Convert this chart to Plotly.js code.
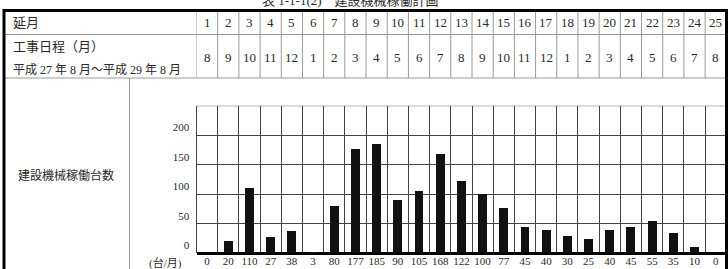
<!DOCTYPE html>
<html>
<head>
<meta charset="utf-8">
<script src="https://cdn.plot.ly/plotly-3.0.1.min.js"></script>
<style>html,body{margin:0;padding:0;background:#fff;}#chart{width:728px;height:269px;}</style>
</head>
<body>
<div id="chart"></div>
<script>
// ---- data ----
var monthIndex = [1,2,3,4,5,6,7,8,9,10,11,12,13,14,15,16,17,18,19,20,21,22,23,24,25];
var calendarMonth = [8,9,10,11,12,1,2,3,4,5,6,7,8,9,10,11,12,1,2,3,4,5,6,7,8];
var machineCount = [0,20,110,27,38,3,80,177,185,90,105,168,122,100,77,45,40,30,25,40,45,55,35,10,0];
var yTickVals = [0,50,100,150,200];
var titleText = "表 1-1-1(2)　建設機械稼働計画";
var rowLabel1 = "延月";
var rowLabel2a = "工事日程（月）";
var rowLabel2b = "平成 27 年 8 月～平成 29 年 8 月";
var rowLabel3 = "建設機械稼働台数";
var unitLabel = "(台/月)";

// ---- layout helpers ----
var W = 728, H = 269;
function X(px){ return px / W; }
function Y(py){ return 1 - py / H; }
var FONT = "Liberation Serif, 'Noto Sans CJK JP', serif";
var TXT = "#2a2a2a";
var n = machineCount.length;
var xs = machineCount.map(function(_, i){ return i; });

var shapes = [];
var gray = "#9a9a9a";
shapes.push({type:"line", xref:"paper", yref:"paper", x0:X(4), x1:X(726.5), y0:Y(34.5), y1:Y(34.5), line:{color:gray, width:1}});
shapes.push({type:"line", xref:"paper", yref:"paper", x0:X(4), x1:X(726.5), y0:Y(78), y1:Y(78), line:{color:gray, width:1}});
for (var i = 0; i < n; i++) {
  shapes.push({type:"line", xref:"x", yref:"paper", x0:i-0.5, x1:i-0.5, y0:Y(10.5), y1:Y(78), line:{color:gray, width:1}});
}
shapes.push({type:"line", xref:"paper", yref:"paper", x0:X(129.5), x1:X(129.5), y0:Y(78), y1:Y(280), line:{color:gray, width:1}});
shapes.push({type:"line", xref:"x", yref:"y", x0:-0.5, x1:n-0.5, y0:250, y1:250, line:{color:"#444", width:1}});
shapes.push({type:"rect", xref:"paper", yref:"paper", x0:X(4), x1:X(726.5), y0:Y(10.5), y1:Y(290), line:{color:"#000", width:3}, fillcolor:"rgba(0,0,0,0)"});

var annotations = [];
annotations.push({xref:"paper", yref:"paper", x:X(350), y:Y(0), text:titleText, showarrow:false, xanchor:"center", yanchor:"middle", font:{family:FONT, size:13, color:TXT}});
annotations.push({xref:"paper", yref:"paper", x:X(11), y:Y(23), text:rowLabel1, showarrow:false, xanchor:"left", yanchor:"middle", font:{family:FONT, size:13, color:TXT}});
annotations.push({xref:"paper", yref:"paper", x:X(11), y:Y(46.5), text:rowLabel2a, showarrow:false, xanchor:"left", yanchor:"middle", font:{family:FONT, size:13, color:TXT}});
annotations.push({xref:"paper", yref:"paper", x:X(11), y:Y(69.5), text:rowLabel2b, showarrow:false, xanchor:"left", yanchor:"middle", font:{family:FONT, size:12, color:TXT}});
annotations.push({xref:"paper", yref:"paper", x:X(66), y:Y(175), text:rowLabel3, showarrow:false, xanchor:"center", yanchor:"middle", font:{family:FONT, size:12, color:TXT}});
annotations.push({xref:"paper", yref:"paper", x:X(165), y:Y(263), text:unitLabel, showarrow:false, xanchor:"center", yanchor:"middle", font:{family:FONT, size:11, color:TXT}});
for (var j = 0; j < n; j++) {
  annotations.push({xref:"x", yref:"paper", x:j, y:Y(23), text:String(monthIndex[j]), showarrow:false, xanchor:"center", yanchor:"middle", font:{family:FONT, size:13, color:TXT}});
  annotations.push({xref:"x", yref:"paper", x:j, y:Y(57), text:String(calendarMonth[j]), showarrow:false, xanchor:"center", yanchor:"middle", font:{family:FONT, size:13, color:TXT}});
}

var minorVals = [];
for (var k = 0; k <= n; k++) minorVals.push(k - 0.5);

var trace = {
  type: "bar",
  x: xs,
  y: machineCount,
  width: 0.42,
  marker: {color: "#111", line: {width: 0}},
  hoverinfo: "skip"
};

var layout = {
  width: W, height: H,
  margin: {l:0, r:0, t:0, b:0, pad:0},
  paper_bgcolor: "#fff",
  plot_bgcolor: "#fff",
  showlegend: false,
  xaxis: {
    domain: [X(196.5), X(726.3)],
    range: [-0.5, n - 0.5],
    tickvals: xs,
    ticktext: machineCount.map(String),
    ticks: "",
    showgrid: false,
    zeroline: false,
    showline: false,
    tickfont: {family: FONT, size: 11, color: TXT},
    minor: {tickvals: minorVals, showgrid: true, gridcolor: "#444", gridwidth: 1, ticks: ""},
    fixedrange: true
  },
  yaxis: {
    domain: [1 - 253.3 / H, 1 - 105.7 / H],
    range: [0, 250],
    tickvals: yTickVals,
    ticks: "",
    showgrid: true,
    gridcolor: "#444",
    gridwidth: 1,
    zeroline: true,
    zerolinecolor: "#000",
    zerolinewidth: 2.5,
    showline: true,
    mirror: true,
    linecolor: "#444",
    linewidth: 1,
    ticklabelshift: -8,
    ticklabelstandoff: 4,
    tickfont: {family: FONT, size: 11, color: TXT},
    fixedrange: true
  },
  bargap: 0,
  shapes: shapes,
  annotations: annotations
};

Plotly.newPlot("chart", [trace], layout, {displayModeBar: false, staticPlot: true});
</script>
</body>
</html>
